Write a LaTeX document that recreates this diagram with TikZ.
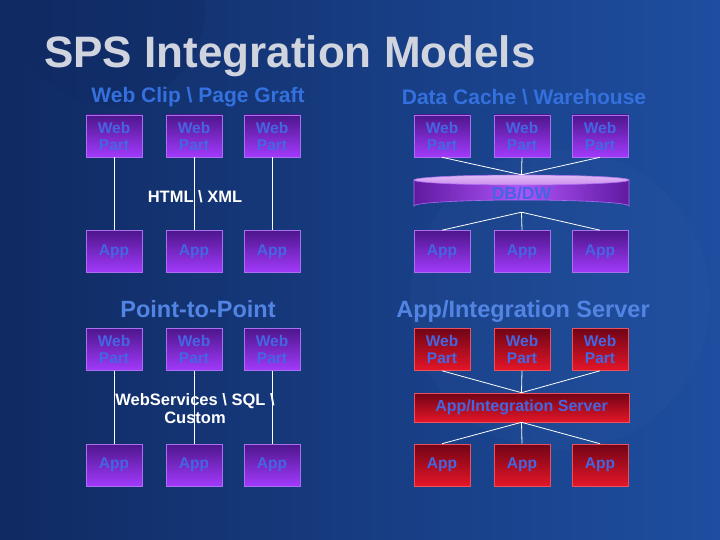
\documentclass[tikz,border=0pt]{standalone}
\usepackage{fontspec}
\setmainfont{Liberation Sans}

\definecolor{bgleft}{RGB}{16,42,98}
\definecolor{bgright}{RGB}{30,78,160}
\definecolor{titlegray}{RGB}{208,212,222}
\definecolor{subblue}{RGB}{52,112,222}
\definecolor{boxblue}{RGB}{68,102,226}
\definecolor{purptop}{RGB}{78,22,140}
\definecolor{purpbot}{RGB}{162,58,252}
\definecolor{purpedge}{RGB}{170,110,240}
\definecolor{redtop}{RGB}{112,4,22}
\definecolor{redbot}{RGB}{228,22,40}
\definecolor{rededge}{RGB}{236,80,90}
\definecolor{cylside}{RGB}{96,26,160}
\definecolor{cylmid}{RGB}{176,84,250}
\definecolor{cyltop}{RGB}{204,142,238}

\begin{document}
\begin{tikzpicture}[x=1pt, y=-1pt,
	pbox/.style={draw=purpedge, line width=0.6pt, top color=purptop, bottom color=purpbot,
		minimum width=56pt, minimum height=42pt, inner sep=0pt, align=center,
		text=boxblue, font=\bfseries\fontsize{15.5}{17}\selectfont},
	rbox/.style={pbox, draw=rededge, top color=redtop, bottom color=redbot},
	link/.style={white, line width=0.8pt},
	modeltitle/.style={text=subblue, font=\bfseries\fontsize{21}{24}\selectfont},
	bigtitle/.style={text=subblue!85!white, font=\bfseries\fontsize{23.5}{26}\selectfont},
	midlabel/.style={text=white, align=center, font=\bfseries\fontsize{16.5}{18}\selectfont}]
	
	% Draw the slide background
	\useasboundingbox (0,0) rectangle (720,540);
	\clip (0,0) rectangle (720,540);
	\shade[left color=bgleft, right color=bgright] (0,0) rectangle (720,540);
	\fill[bgleft, opacity=0.35] (110,10) circle (95);
	\fill[bgright!80!white, opacity=0.08] (560,300) circle (150);
	
	% Titles
	\node[anchor=base west, text=titlegray, font=\bfseries\fontsize{44}{48}\selectfont, inner sep=0pt]
		(title) at (44,68) {SPS Integration Models};
	\node[modeltitle] (clip) at (198,97) {Web Clip \textbackslash{} Page Graft};
	\node[modeltitle] (cache) at (524,97) {Data Cache \textbackslash{} Warehouse};
	\node[bigtitle] (p2p) at (198,309) {Point-to-Point};
	\node[bigtitle] (appsrv) at (523,311) {App/Integration Server};
	
	% Draw the web parts and apps of the four models
	\foreach \q/\xo/\yo/\st in {a/0/0/pbox, b/328/0/pbox, c/0/213.5/pbox, d/328/213.5/rbox}{
		\foreach \i/\x in {1/114, 2/194, 3/272}{
			\node[\st] (\q-w\i) at (\x+\xo, 136+\yo) {Web\\Part};
			\node[\st] (\q-a\i) at (\x+\xo, 251.5+\yo) {App};
		}
	}
	
	% Draw the DB/DW cylinder
	\path[shading=axis, shading angle=90, left color=cylside, right color=cylside, middle color=cylmid,
		draw=purpedge, line width=0.6pt]
		(414,180) -- (414,206) arc[start angle=180, end angle=360, x radius=107.5, y radius=6]
		-- (629,180) -- cycle;
	\path[top color=cyltop!60!white, bottom color=cyltop, draw=purpedge, line width=0.6pt]
		(521.5,180) ellipse [x radius=107.5, y radius=5];
	\node[minimum width=215pt, minimum height=37pt, inner sep=0pt, text=boxblue,
		font=\bfseries\fontsize{17.5}{18}\selectfont] (db) at (521.5,193.5) {DB/DW};
	
	% Draw the integration server
	\node[rbox, minimum width=215pt, minimum height=29pt, font=\bfseries\fontsize{16}{18}\selectfont]
		(srv) at (521.5,407.5) {App/Integration Server};
	
	% Draw the connectors
	\foreach \i in {1,2,3}{
		\draw[link] (a-w\i) -- (a-a\i);
		\draw[link] (c-w\i) -- (c-a\i);
		\draw[link] (b-w\i.south) -- (db.north);
		\draw[link] (db.south) -- (b-a\i.north);
		\draw[link] (d-w\i.south) -- (srv.north);
		\draw[link] (srv.south) -- (d-a\i.north);
	}
	
	% Labels over the point-to-point links
	\node[midlabel] (html) at (195,197) {HTML \textbackslash{} XML};
	\node[midlabel] (ws) at (195,409) {WebServices \textbackslash{} SQL \textbackslash{}\\Custom};
	
\end{tikzpicture}
\end{document}
